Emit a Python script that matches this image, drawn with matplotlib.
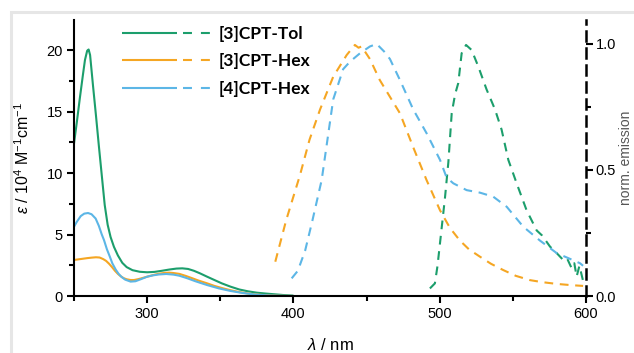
import matplotlib
matplotlib.use("Agg")
import matplotlib.pyplot as plt
from matplotlib.lines import Line2D
from matplotlib.legend_handler import HandlerBase
from matplotlib.patches import Rectangle
from matplotlib.ticker import MultipleLocator, FormatStrFormatter

plt.rcParams['font.family'] = ['Liberation Sans', 'DejaVu Sans']
plt.rcParams['mathtext.fontset'] = 'custom'
plt.rcParams['mathtext.rm'] = 'Liberation Sans'
plt.rcParams['mathtext.it'] = 'Liberation Sans:italic'

# ---------------- data ----------------
series_names = ["[3]CPT-Tol", "[3]CPT-Hex", "[4]CPT-Hex"]
series_colors = ["#1c9e6c", "#f5a623", "#5cb6e6"]

# absorption (epsilon / 1e4 M-1 cm-1)
abs_tol_x = [250, 252, 254, 256, 257.5, 259, 260, 261, 263, 265, 267, 269, 271, 273, 275, 277.3, 280, 283, 286, 290,
             295, 300, 305, 310, 315, 320, 324, 328, 332, 336, 341, 346, 351, 357, 363, 369, 375, 381, 387, 393, 400]
abs_tol_y = [12.4, 14.2, 16.1, 17.9, 19.2, 19.95, 20.05, 19.6, 17.1, 14.7, 12.2, 9.8, 7.4, 5.8, 4.8, 4.0, 3.3, 2.7, 2.35, 2.1,
             1.97, 1.93, 1.96, 2.05, 2.15, 2.23, 2.25, 2.2, 2.05, 1.85, 1.57, 1.3, 1.03, 0.76, 0.53, 0.38, 0.27, 0.2, 0.14, 0.08, 0.03]

abs_3hex_x = [250, 253, 256, 259, 262, 265, 267.5, 270, 272, 274, 276, 278, 280, 282, 284, 286, 288.7, 291, 294, 297,
              300, 304, 308, 312, 315, 318, 322, 326, 330, 335, 341, 346, 352, 357, 363, 369, 375, 382, 390, 400]
abs_3hex_y = [2.93, 2.98, 3.03, 3.08, 3.12, 3.15, 3.13, 3.0, 2.85, 2.62, 2.35, 2.05, 1.8, 1.6, 1.45, 1.36, 1.3, 1.3, 1.37, 1.47,
              1.57, 1.7, 1.81, 1.88, 1.9, 1.87, 1.8, 1.65, 1.48, 1.26, 1.03, 0.82, 0.62, 0.47, 0.32, 0.2, 0.12, 0.06, 0.02, 0.0]

abs_4hex_x = [250, 252, 254.6, 257, 259.6, 262, 264.8, 267, 269, 270.5, 272.5, 274.5, 276.2, 278.5, 280.5, 282.5, 285, 288.7,
              292, 296, 300, 304, 308, 313, 318, 322, 327.5, 333, 341, 349, 357, 365, 373, 382, 390, 400]
abs_4hex_y = [5.63, 6.05, 6.5, 6.7, 6.75, 6.65, 6.3, 5.7, 5.0, 4.55, 3.8, 3.2, 2.66, 2.15, 1.8, 1.55, 1.33, 1.17,
              1.2, 1.38, 1.57, 1.68, 1.75, 1.79, 1.74, 1.65, 1.44, 1.2, 0.89, 0.62, 0.41, 0.25, 0.13, 0.05, 0.02, 0.0]

# normalised emission
em_tol_x = [493.3, 496.7, 498.5, 500.2, 503.6, 505.9, 508.2, 510.5, 512.7, 515, 518, 521.8, 526.4, 532, 537.8, 542.3, 546.9,
            552.6, 559.4, 566.3, 570, 575.4, 580, 584.4, 587, 590.2, 592, 593.6, 595.5, 598]
em_tol_y = [0.03, 0.05, 0.12, 0.21, 0.39, 0.53, 0.725, 0.80, 0.845, 0.963, 0.996, 0.976, 0.91, 0.82, 0.74, 0.66, 0.54,
            0.447, 0.34, 0.26, 0.24, 0.196, 0.17, 0.143, 0.15, 0.11, 0.13, 0.077, 0.12, 0.06]

em_3hex_x = [387.6, 395, 404.5, 411, 418.2, 427.2, 436.4, 442, 444.5, 446.6, 452.3, 459, 466, 472.8, 481.9, 491, 500.2,
             507, 513.8, 520, 527.5, 535, 543.4, 552, 561.7, 570, 580, 590, 598]
em_3hex_y = [0.136, 0.3, 0.48, 0.62, 0.74, 0.87, 0.956, 0.996, 0.985, 0.99, 0.94, 0.857, 0.79, 0.725, 0.59, 0.46, 0.34,
             0.27, 0.22, 0.185, 0.156, 0.128, 0.103, 0.08, 0.063, 0.055, 0.048, 0.043, 0.04]

em_4hex_x = [398.8, 403, 408, 413, 419.3, 427.2, 434, 438.7, 445.5, 452.3, 456.9, 462, 466, 472.8, 481.9, 491, 500.2, 504.7,
             509.3, 518.4, 527.5, 536.6, 545.8, 557.1, 568.5, 580, 588, 595.9, 598]
em_4hex_y = [0.07, 0.1, 0.18, 0.3, 0.46, 0.78, 0.9, 0.93, 0.963, 0.99, 1.0, 0.97, 0.94, 0.857, 0.74, 0.646, 0.54, 0.47,
             0.447, 0.42, 0.41, 0.394, 0.354, 0.275, 0.22, 0.17, 0.15, 0.13, 0.12]

abs_x = [abs_tol_x, abs_3hex_x, abs_4hex_x]
abs_y = [abs_tol_y, abs_3hex_y, abs_4hex_y]
em_x = [em_tol_x, em_3hex_x, em_4hex_x]
em_y = [em_tol_y, em_3hex_y, em_4hex_y]

# ---------------- figure ----------------
W, H = 634, 353
fig = plt.figure(figsize=(W / 100, H / 100), dpi=100)
fig.patch.set_facecolor("white")

# light grey frame of the original screenshot
fig.patches.append(Rectangle((11 / W, -0.2), 1.5, 1.2 - 12 / H, transform=fig.transFigure,
                             fill=False, edgecolor="#e6e6e6", lw=2.2, zorder=0))

ax = fig.add_axes([74 / W, 1 - 296 / H, (586 - 74) / W, (296 - 20) / H])
ax2 = ax.twinx()
ax.patch.set_alpha(0)
ax2.patch.set_alpha(0)

LW = 1.5
DASH = (4.2, 3.2)

handles = []
for i, name in enumerate(series_names):
    c = series_colors[i]
    ls, = ax.plot(abs_x[i], abs_y[i], color=c, lw=LW, solid_capstyle="butt", solid_joinstyle="round")
    ld, = ax2.plot(em_x[i], em_y[i], color=c, lw=LW, ls=(0, DASH))
    handles.append((ls, ld))

ax.set_xlim(250, 600)
ax.set_ylim(0, 22.45)
ax2.set_ylim(0, 1.095)

for a in (ax, ax2):
    a.spines["top"].set_visible(False)
ax.spines["right"].set_visible(False)
ax2.spines["left"].set_visible(False)
ax2.spines["bottom"].set_visible(False)
ax.spines["left"].set_linewidth(1.5)
ax.spines["bottom"].set_linewidth(1.5)
ax2.spines["right"].set_linewidth(1.8)
ax2.spines["right"].set_linestyle((0, (4, 2.8)))

ax.xaxis.set_major_locator(MultipleLocator(100))
ax.xaxis.set_minor_locator(MultipleLocator(50))
ax.yaxis.set_major_locator(MultipleLocator(5))
ax.yaxis.set_minor_locator(MultipleLocator(2.5))
ax2.yaxis.set_major_locator(MultipleLocator(0.5))
ax2.yaxis.set_minor_locator(MultipleLocator(0.25))
ax2.yaxis.set_major_formatter(FormatStrFormatter("%.1f"))

ax.tick_params(axis="both", which="major", direction="out", length=5, width=1.5,
               labelsize=10.5, pad=3)
ax.tick_params(axis="both", which="minor", direction="out", length=3.5, width=1.5)
ax2.tick_params(axis="y", which="major", direction="out", length=5, width=1.5,
                labelsize=10.5, pad=2)
ax2.tick_params(axis="y", which="minor", direction="out", length=3.5, width=1.5)

ax.set_ylabel(r"$\mathit{\varepsilon}$ / 10$^{4}$ M$^{-1}$cm$^{-1}$", fontsize=11.5)
ax.yaxis.set_label_coords(-0.082, 0.5)
ax.set_xlabel(r"$\mathit{\lambda}$ / nm", fontsize=12, va="top")
ax.xaxis.set_label_coords(0.5, -0.147)

ax2.set_ylabel("norm. emission", fontsize=10, color="#555555")
ax2.yaxis.set_label_coords((619 - 74) / 512, 0.5)


class SplitHandler(HandlerBase):
    def create_artists(self, legend, orig_handle, xdescent, ydescent, width, height,
                       fontsize, trans):
        solid, dashed = orig_handle
        y = height / 2 - ydescent
        x0 = -xdescent
        l1 = Line2D([x0, x0 + 0.62 * width], [y, y], color=solid.get_color(), lw=LW,
                    solid_capstyle="butt")
        l2 = Line2D([x0 + 0.69 * width, x0 + width], [y, y], color=dashed.get_color(),
                    lw=LW, ls=(0, (4.3, 4.3)))
        for l in (l1, l2):
            l.set_transform(trans)
        return [l1, l2]


FS_LEG = 12.5
leg = ax.legend(handles, series_names, handler_map={tuple: SplitHandler()},
                loc="upper left", bbox_to_anchor=(48 / 512, (296 - 26) / 276), frameon=False,
                handlelength=89 / (FS_LEG * 100 / 72), handletextpad=8 / (FS_LEG * 100 / 72),
                labelspacing=0.66, borderaxespad=0, borderpad=0,
                prop={"family": "Lato", "size": FS_LEG, "weight": "bold"})

fig.savefig("out.png", dpi=100)
